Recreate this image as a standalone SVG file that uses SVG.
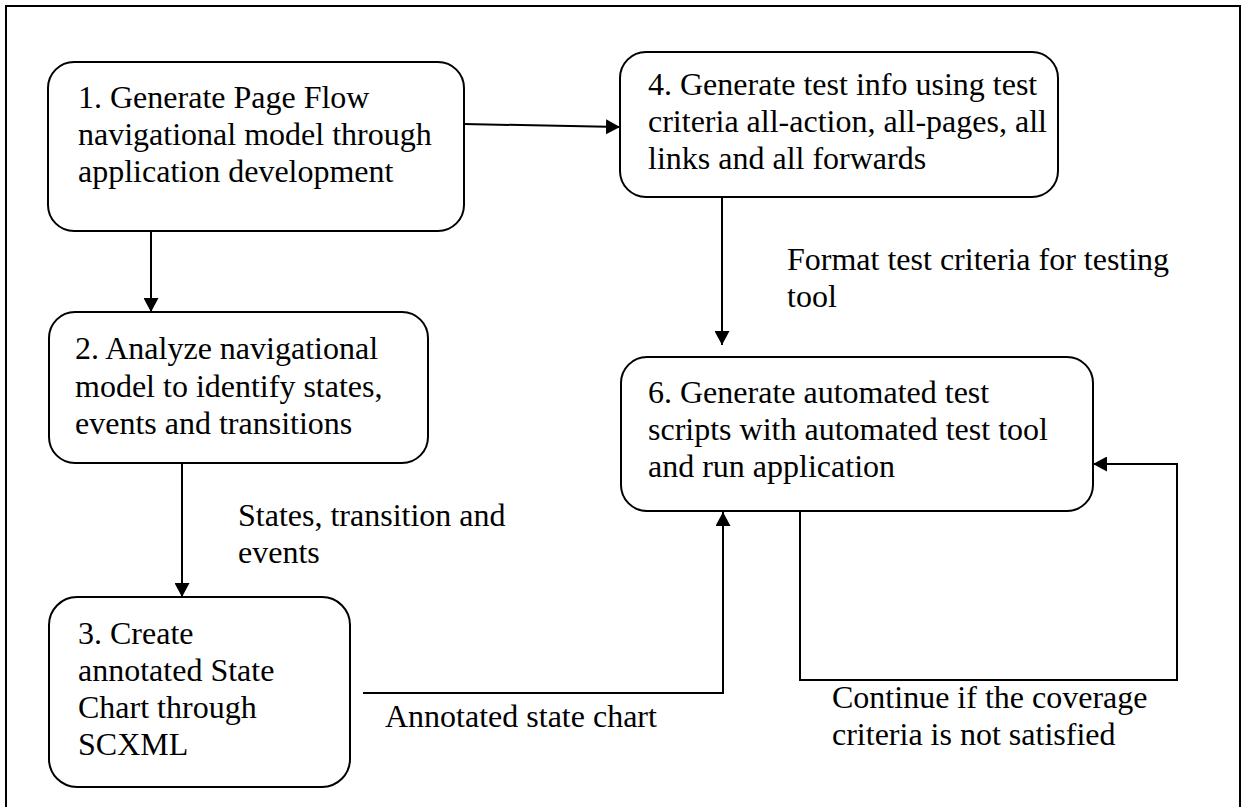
<svg xmlns="http://www.w3.org/2000/svg" width="1244" height="807" viewBox="0 0 1244 807">
  <style>
    .frame { fill: none; stroke: #000; stroke-width: 2; }
    .box { fill: #fff; stroke: #000; stroke-width: 2; }
    .edge { fill: none; stroke: #000; stroke-width: 2; }
    text { font-family: "Liberation Serif", "Times New Roman", serif; font-size: 32px; fill: #000; }
  </style>
  <defs>
    <marker id="arrow" markerUnits="userSpaceOnUse" markerWidth="15" markerHeight="15" refX="14" refY="7.5" orient="auto">
      <path d="M0,0 L14,7.5 L0,15 z" fill="#000"/>
    </marker>
  </defs>

  <rect id="frame" class="frame" x="6" y="6" width="1234" height="820"/>

  <!-- flow steps -->
  <g id="step1">
    <rect class="box" x="48" y="62" width="416" height="169" rx="26" ry="26"/>
    <text x="78" y="108">1. Generate Page Flow</text>
    <text x="78" y="145">navigational model through</text>
    <text x="78" y="182">application development</text>
  </g>

  <g id="step4">
    <rect class="box" x="620" y="52" width="438" height="145" rx="26" ry="26"/>
    <text x="648" y="95">4. Generate test info using test</text>
    <text x="648" y="132">criteria all-action, all-pages, all</text>
    <text x="648" y="169">links and all forwards</text>
  </g>

  <g id="step2">
    <rect class="box" x="49" y="312" width="379" height="151" rx="26" ry="26"/>
    <text x="75" y="359">2. Analyze navigational</text>
    <text x="75" y="397">model to identify states,</text>
    <text x="75" y="434">events and transitions</text>
  </g>

  <g id="step3">
    <rect class="box" x="49" y="597" width="301" height="190" rx="28" ry="28"/>
    <text x="78" y="644">3. Create</text>
    <text x="78" y="681">annotated State</text>
    <text x="78" y="718">Chart through</text>
    <text x="78" y="755">SCXML</text>
  </g>

  <g id="step6">
    <rect class="box" x="621" y="357" width="472" height="154" rx="26" ry="26"/>
    <text x="648" y="403">6. Generate automated test</text>
    <text x="648" y="440">scripts with automated test tool</text>
    <text x="648" y="477">and run application</text>
  </g>

  <!-- connectors -->
  <g id="connectors">
    <path class="edge" d="M464,124 L620,127" marker-end="url(#arrow)"/>
    <path class="edge" d="M151,231 L151,312" marker-end="url(#arrow)"/>
    <path class="edge" d="M182,463 L182,597" marker-end="url(#arrow)"/>
    <path class="edge" d="M722,197 L722,345" marker-end="url(#arrow)"/>
    <path class="edge" d="M363,693 L723,693 L723,512" marker-end="url(#arrow)"/>
    <path class="edge" d="M800,511 L800,680 L1177,680 L1177,464 L1093,464" marker-end="url(#arrow)"/>
  </g>

  <!-- connector labels -->
  <g id="labels">
    <text x="238" y="526">States, transition and</text>
    <text x="238" y="563">events</text>
    <text x="787" y="270">Format test criteria for testing</text>
    <text x="787" y="307">tool</text>
    <text x="385" y="727">Annotated state chart</text>
    <text x="832" y="708">Continue if the coverage</text>
    <text x="832" y="745">criteria is not satisfied</text>
  </g>
</svg>
